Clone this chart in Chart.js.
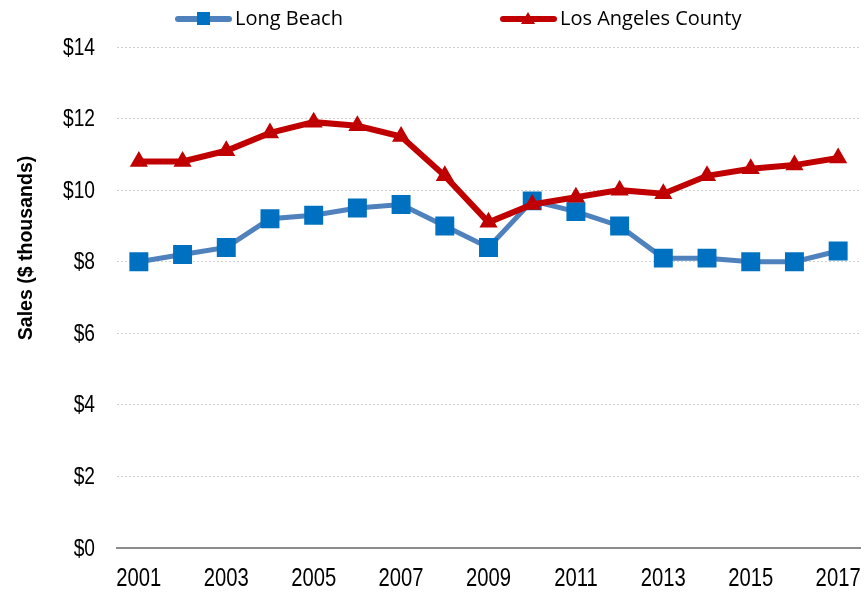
<!DOCTYPE html>
<html>
<head>
<meta charset="utf-8">
<script src="https://cdn.jsdelivr.net/npm/chart.js@4.4.1/dist/chart.umd.min.js"></script>
<style>
  html, body { margin: 0; padding: 0; background: #fff; }
  canvas { display: block; }
</style>
</head>
<body>
<canvas id="chart" width="864" height="593"></canvas>
<script>
// average sales per year, $ thousands
const years = ["2001","2002","2003","2004","2005","2006","2007","2008","2009",
               "2010","2011","2012","2013","2014","2015","2016","2017"];
const longBeach = [8.0, 8.2, 8.4, 9.2, 9.3, 9.5, 9.6, 9.0, 8.4, 9.7, 9.4, 9.0, 8.1, 8.1, 8.0, 8.0, 8.3];
const laCounty  = [10.8, 10.8, 11.1, 11.6, 11.9, 11.8, 11.5, 10.4, 9.1, 9.6, 9.8, 10.0, 9.9, 10.4, 10.6, 10.7, 10.9];

const sans = "'Liberation Sans', Arial, sans-serif";

const BLUE_LINE = "#4f81bd", BLUE_MARK = "#0070c0";
const RED = "#c00000";

// condensed text: squeeze horizontally around the anchor point
function narrowText(ctx, text, x, y, squeeze) {
  ctx.save();
  ctx.translate(x, y);
  ctx.scale(squeeze, 1);
  ctx.fillText(text, 0, 0);
  ctx.restore();
}

// tick labels, legend (line + marker swatches) and rotated y title
const extras = {
  id: "extras",
  afterDraw(chart) {
    const ctx = chart.ctx;
    const xs = chart.scales.x, ys = chart.scales.y;
    ctx.save();
    ctx.fillStyle = "#000";
    ctx.textBaseline = "middle";

    ctx.font = "24px " + sans;
    ctx.textAlign = "right";
    ys.ticks.forEach((t, i) => narrowText(ctx, "$" + t.value, 95, ys.getPixelForTick(i) + 1, 0.8));

    ctx.font = "25px " + sans;
    ctx.textAlign = "center";
    xs.ticks.forEach((t, i) => {
      if (i % 2 === 0) narrowText(ctx, years[i], xs.getPixelForTick(i), 579, 0.81);
    });

    // Long Beach swatch
    ctx.lineCap = "round";
    ctx.strokeStyle = BLUE_LINE;
    ctx.lineWidth = 6;
    ctx.beginPath(); ctx.moveTo(178, 19); ctx.lineTo(229, 19); ctx.stroke();
    ctx.fillStyle = BLUE_MARK;
    ctx.fillRect(197, 12, 13, 13);

    // LA County swatch
    ctx.strokeStyle = RED;
    ctx.beginPath(); ctx.moveTo(503, 19); ctx.lineTo(554, 19); ctx.stroke();
    ctx.fillStyle = RED;
    ctx.beginPath(); ctx.moveTo(528, 12); ctx.lineTo(535, 24); ctx.lineTo(521, 24); ctx.closePath(); ctx.fill();

    ctx.fillStyle = "#000";
    ctx.font = "20px 'Open Sans', sans-serif";
    ctx.textAlign = "left";
    ctx.fillText("Long Beach", 235, 19);
    ctx.fillText("Los Angeles County", 560, 19);

    // y axis title
    ctx.translate(26, 248);
    ctx.rotate(-Math.PI / 2);
    ctx.textAlign = "center";
    ctx.font = "bold 21px " + sans;
    narrowText(ctx, "Sales ($ thousands)", 0, 0, 0.93);
    ctx.restore();
  }
};

new Chart(document.getElementById("chart"), {
  type: "line",
  data: {
    labels: years,
    datasets: [
      {
        label: "Long Beach",
        data: longBeach,
        borderColor: BLUE_LINE,
        borderWidth: 5,
        pointStyle: "rect",
        pointRadius: 13.4,
        pointBackgroundColor: BLUE_MARK,
        pointBorderWidth: 0,
        tension: 0,
        order: 1
      },
      {
        label: "Los Angeles County",
        data: laCounty,
        borderColor: RED,
        borderWidth: 6,
        pointStyle: "triangle",
        pointRadius: 10.5,
        pointBackgroundColor: RED,
        pointBorderWidth: 0,
        tension: 0,
        order: 0
      }
    ]
  },
  options: {
    responsive: false,
    animation: false,
    layout: { autoPadding: false, padding: { top: 47, right: 4, left: 0, bottom: 0 } },
    plugins: {
      legend: { display: false },
      tooltip: { enabled: false }
    },
    scales: {
      x: {
        offset: true,
        grid: { display: false, drawTicks: false },
        border: { display: true, color: "#8c8c8c", width: 2 },
        ticks: { display: false, autoSkip: false },
        afterFit: s => { s.height = 45; }
      },
      y: {
        min: 0,
        max: 14,
        grid: {
          drawTicks: false,
          lineWidth: 1,
          color: c => (c.tick && c.tick.value === 0 ? "rgba(0,0,0,0)" : "#cfcfcf")
        },
        border: { display: false, dash: [2, 2] },
        ticks: { display: false, stepSize: 2 },
        afterFit: s => { s.width = 117; }
      }
    }
  },
  plugins: [extras]
});
</script>
</body>
</html>
